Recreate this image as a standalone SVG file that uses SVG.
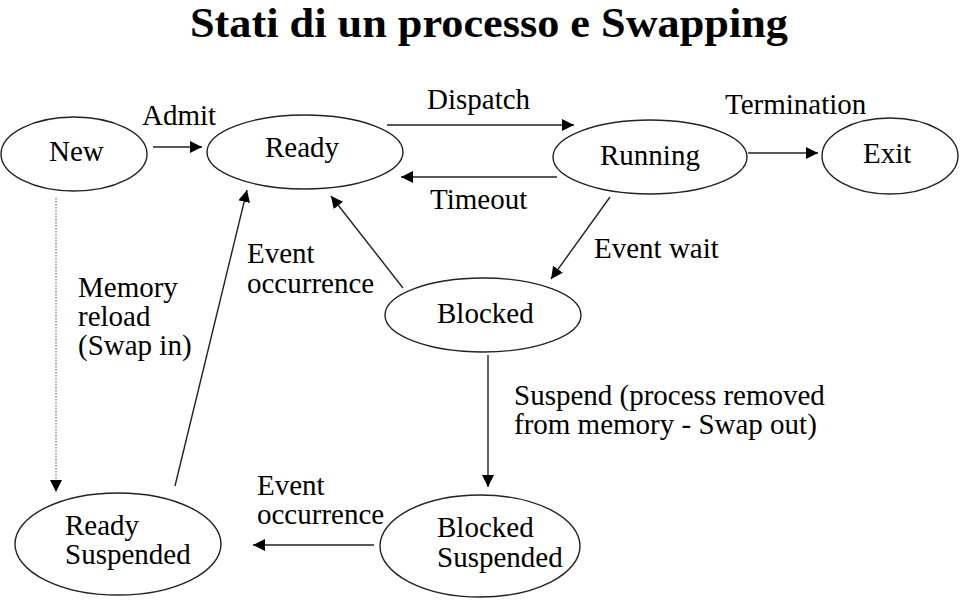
<svg xmlns="http://www.w3.org/2000/svg" width="960" height="600" viewBox="0 0 960 600">
<style>
.node ellipse{fill:#fff;stroke:#222;stroke-width:1.4}
text{font-family:"Liberation Serif","Times New Roman",serif;font-size:29px;fill:#000}
.title{font-size:43px;font-weight:bold}
.c line{stroke:#222;stroke-width:1.4;marker-end:url(#ah)}
.c line.dot{stroke:#555;stroke-width:1;stroke-dasharray:1.5 1.5}
</style>
<defs>
<marker id="ah" markerUnits="userSpaceOnUse" markerWidth="13" markerHeight="12" refX="12" refY="6" orient="auto">
<path d="M0,0 L12,6 L0,12 z" fill="#000"/>
</marker>
</defs>
<rect width="960" height="600" fill="#fff"/>
<text class="title" x="489" y="37" text-anchor="middle" textLength="598" lengthAdjust="spacingAndGlyphs">Stati di un processo e Swapping</text>

<g id="new" class="node"><ellipse cx="74" cy="154" rx="73" ry="37"/><text x="49" y="161">New</text></g>
<g id="ready" class="node"><ellipse cx="305" cy="152" rx="98" ry="37"/><text x="265" y="157">Ready</text></g>
<g id="running" class="node"><ellipse cx="650" cy="157" rx="97" ry="37"/><text x="600" y="165">Running</text></g>
<g id="exit" class="node"><ellipse cx="890" cy="156" rx="68" ry="38"/><text x="863" y="163">Exit</text></g>
<g id="blocked" class="node"><ellipse cx="483" cy="315" rx="98" ry="37"/><text x="437" y="323">Blocked</text></g>
<g id="ready-suspended" class="node"><ellipse cx="118" cy="544" rx="103" ry="51"/><text x="65" y="535">Ready</text><text x="65" y="564">Suspended</text></g>
<g id="blocked-suspended" class="node"><ellipse cx="480" cy="546" rx="100" ry="51"/><text x="437" y="537">Blocked</text><text x="437" y="567">Suspended</text></g>

<g id="connectors" class="c">
<line x1="153" y1="147" x2="202" y2="147"/>
<line x1="387" y1="125" x2="574" y2="125"/>
<line x1="557" y1="177" x2="401" y2="177"/>
<line x1="748" y1="153" x2="818" y2="153"/>
<line x1="610" y1="197" x2="551" y2="279"/>
<line x1="403" y1="288" x2="331" y2="196"/>
<line x1="175" y1="486" x2="247" y2="190"/>
<line class="dot" x1="56" y1="198" x2="56" y2="492"/>
<line x1="488" y1="355" x2="488" y2="487"/>
<line x1="374" y1="545" x2="253" y2="545"/>
</g>

<g id="labels">
<text x="142" y="125">Admit</text>
<text x="427" y="109">Dispatch</text>
<text x="430" y="209">Timeout</text>
<text x="725" y="114">Termination</text>
<text x="594" y="258">Event wait</text>
<text x="78" y="297">Memory</text>
<text x="78" y="326">reload</text>
<text x="78" y="355">(Swap in)</text>
<text x="247" y="263">Event</text>
<text x="247" y="293">occurrence</text>
<text x="514" y="405">Suspend (process removed</text>
<text x="514" y="434">from memory - Swap out)</text>
<text x="257" y="495">Event</text>
<text x="257" y="524">occurrence</text>
</g>
</svg>
